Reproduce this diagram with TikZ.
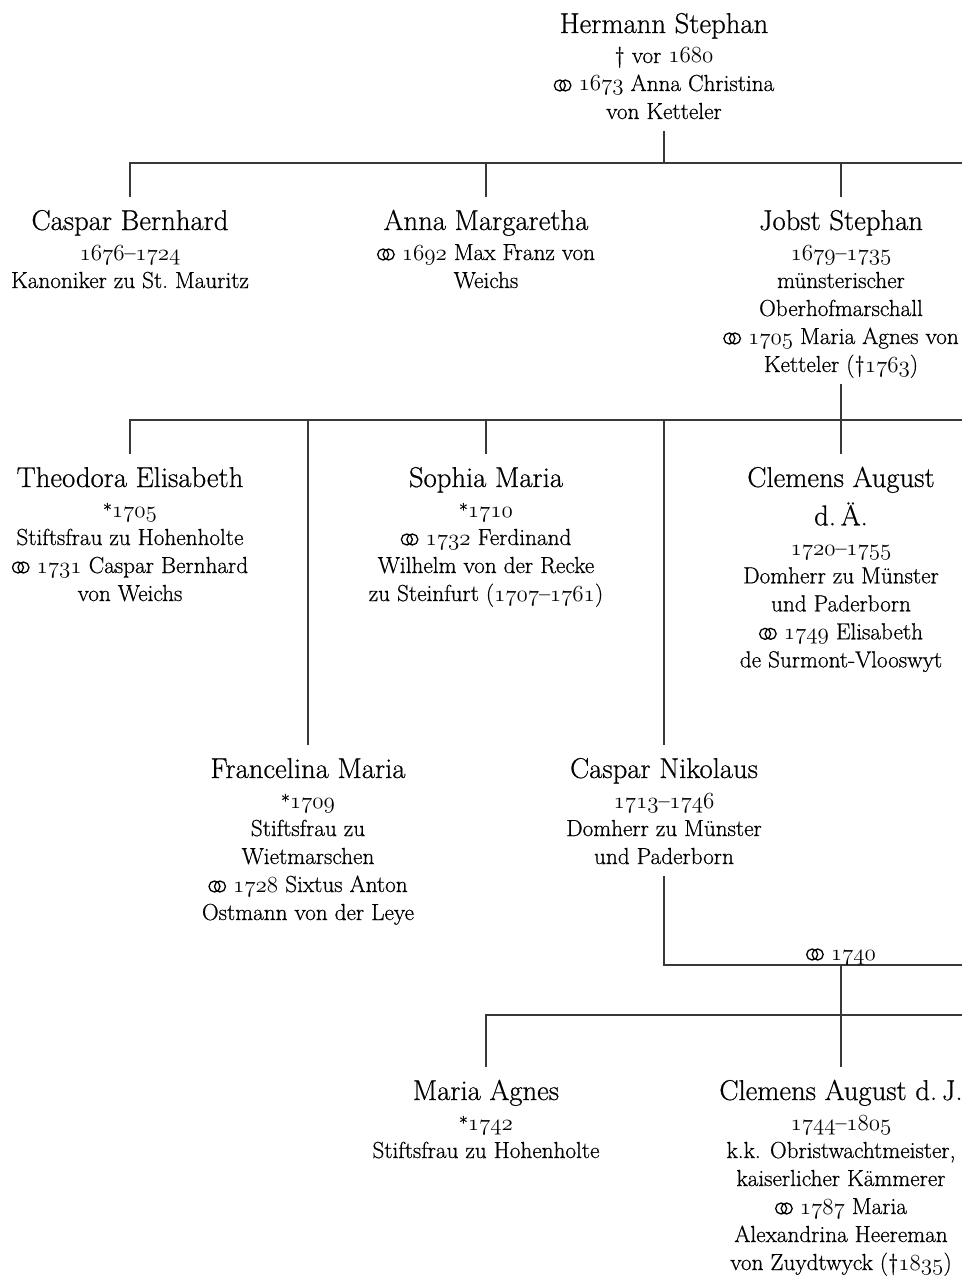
\documentclass[tikz,border=0pt]{standalone}
\usepackage{fontspec}
\setmainfont{Latin Modern Roman}[FakeBold=0.6]
\newcommand\os[1]{{\usefont{OML}{lmm}{m}{it}#1}}
\newcommand\born{{\fontsize{13.5pt}{13.5pt}\selectfont\raisebox{0.5pt}{*}}}
\newcommand\smallf{\fontsize{17.4pt}{21pt}\selectfont}
\newcommand\namef{\fontsize{21.5pt}{24pt}\selectfont}
\newcommand\marr{\tikz[baseline=0pt,x=1ex,y=1ex]{\draw[line width=0.13ex,black] (0.6,0.55) circle (0.55) (1.15,0.55) circle (0.55);}}
\newcommand\pers[2]{\begin{tabular}[t]{@{}c@{}}\rule{0pt}{22pt}\namef #1\\[1.5pt]#2\end{tabular}}
\tikzset{
  person/.style={anchor=base, inner sep=2.7pt, font=\smallf, text=black},
  conn/.style={draw=black!78, line width=0.8pt},
  mlabel/.style={anchor=base, inner sep=0pt, font=\smallf, text=black}
}
\begin{document}
\begin{tikzpicture}[x=0.75pt,y=-0.75pt]
\fill[white] (0,0) rectangle (962,1277);
\useasboundingbox (0,0) rectangle (962,1277);

% generation 1
\node[person] (hs) at (664,33) {\pers{Hermann Stephan}{\textdagger{} vor \os{1680}\\\marr\ \os{1673} Anna Christina\\von Ketteler}};

% generation 2
\node[person] (cb) at (130,230) {\pers{Caspar Bernhard}{\os{1676}–\os{1724}\\Kanoniker zu St.~Mauritz}};
\node[person] (am) at (486,230) {\pers{Anna Margaretha}{\marr\ \os{1692} Max Franz von\\Weichs}};
\node[person] (js) at (841,230) {\pers{Jobst Stephan}{\os{1679}–\os{1735}\\münsterischer\\Oberhofmarschall\\\marr\ \os{1705} Maria Agnes von\\Ketteler (\textdagger\os{1763})}};

% generation 3
\node[person] (te) at (130,487) {\pers{Theodora Elisabeth}{\born\os{1705}\\Stiftsfrau zu Hohenholte\\\marr\ \os{1731} Caspar Bernhard\\von Weichs}};
\node[person] (sm) at (486,487) {\pers{Sophia Maria}{\born\os{1710}\\\marr\ \os{1732} Ferdinand\\Wilhelm von der Recke\\zu Steinfurt (\os{1707}–\os{1761})}};
\node[person] (ca) at (841,487) {\pers{Clemens August\\[5.25pt]\namef d.\,Ä.}{\os{1720}–\os{1755}\\Domherr zu Münster\\und Paderborn\\\marr\ \os{1749} Elisabeth\\de Surmont-Vlooswyt}};
\node[person] (fm) at (308,778) {\pers{Francelina Maria}{\born\os{1709}\\Stiftsfrau zu\\Wietmarschen\\\marr\ \os{1728} Sixtus Anton\\Ostmann von der Leye}};
\node[person] (cn) at (664,778) {\pers{Caspar Nikolaus}{\os{1713}–\os{1746}\\Domherr zu Münster\\und Paderborn}};

% generation 4
\node[person] (ma) at (486,1100) {\pers{Maria Agnes}{\born\os{1742}\\Stiftsfrau zu Hohenholte}};
\node[person] (cj) at (841,1100) {\pers{Clemens August d.\,J.}{\os{1744}–\os{1805}\\k.k. Obristwachtmeister,\\kaiserlicher Kämmerer\\\marr\ \os{1787} Maria\\Alexandrina Heereman\\von Zuydtwyck (\textdagger\os{1835})}};

% bus coordinates (right ends run off the page)
\coordinate (b1) at (962,163);
\coordinate (b2) at (962,420);
\coordinate (m1) at (962,965);
\coordinate (b3) at (962,1015);

% connectors generation 1 -> 2
\draw[conn] (hs.south) -- (hs.south |- b1);
\draw[conn] (cb.north) -- (cb.north |- b1) -- (b1);
\draw[conn] (am.north) -- (am.north |- b1);
\draw[conn] (js.north) -- (js.north |- b1);

% connectors generation 2 -> 3
\draw[conn] (js.south) -- (js.south |- b2);
\draw[conn] (te.north) -- (te.north |- b2) -- (b2);
\draw[conn] (fm.north) -- (fm.north |- b2);
\draw[conn] (sm.north) -- (sm.north |- b2);
\draw[conn] (cn.north) -- (cn.north |- b2);
\draw[conn] (ca.north) -- (ca.north |- b2);

% marriage of Caspar Nikolaus and children
\draw[conn] (cn.south) -- (cn.south |- m1) -- (m1);
\node[mlabel] (ml) at (841,960) {\marr\ \os{1740}};
\draw[conn] (cj.north |- m1) -- (cj.north);
\draw[conn] (ma.north) -- (ma.north |- b3) -- (b3);
\end{tikzpicture}
\end{document}
